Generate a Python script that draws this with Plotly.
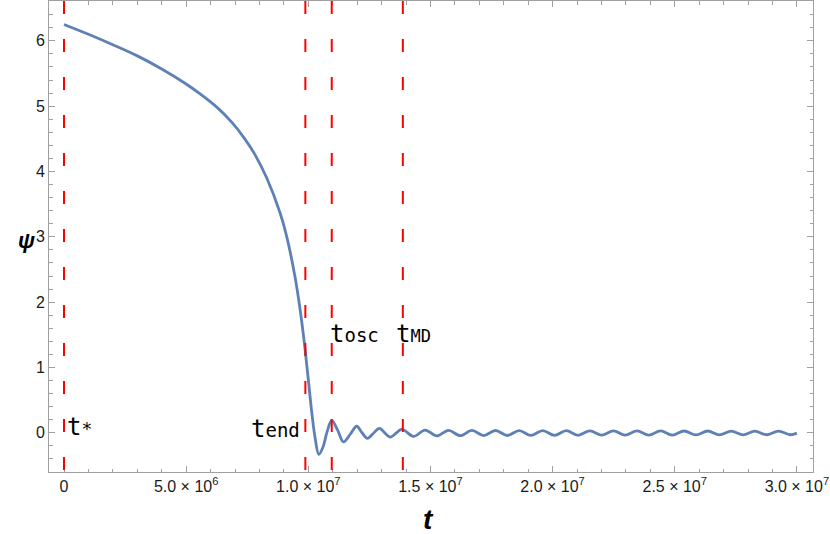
import plotly.graph_objects as go

# time in units of 1e6
t_vals = [0.0, 1.0, 2.0, 3.0, 4.0, 5.0, 5.6, 6.3, 6.9, 7.4, 7.8, 8.3, 8.85, 9.12, 9.46, 9.66,
          9.85, 10.0, 10.14, 10.28, 10.43, 10.6, 10.78, 10.96, 11.2, 11.44, 11.72, 11.98, 12.2,
          12.42, 12.66, 12.91, 13.35, 13.83, 14.31, 14.78, 15.26, 15.74, 16.22, 16.70,
          17.18, 17.665, 18.15, 18.63, 19.11, 19.595, 20.08, 20.56, 21.04, 21.525, 22.01,
          22.49, 22.97, 23.455, 23.94, 24.42, 24.90, 25.385, 25.87, 26.35, 26.83, 27.315,
          27.80, 28.28, 28.76, 29.245, 29.73, 30.0]
psi_vals = [6.25, 6.10, 5.94, 5.77, 5.57, 5.34, 5.18, 4.97, 4.74, 4.50, 4.27, 3.90, 3.36, 3.00, 2.38, 1.90,
            1.34, 0.82, 0.32, -0.08, -0.33, -0.22, 0.03, 0.19, 0.04, -0.14, -0.02, 0.10, 0.0,
            -0.085, -0.01, 0.067, -0.065, 0.052, -0.055, 0.042, -0.048, 0.038, -0.044, 0.036,
            -0.042, 0.035, -0.041, 0.034, -0.040, 0.033, -0.039, 0.032, -0.038, 0.031, -0.037,
            0.030, -0.036, 0.030, -0.035, 0.029, -0.034, 0.028, -0.033, 0.028, -0.032, 0.027,
            -0.031, 0.026, -0.030, 0.026, -0.030, -0.005]

# marker times (units of 1e6)
mark_names = ["t_*", "t_end", "t_osc", "t_MD"]
mark_times = [0.0, 9.88, 10.96, 13.87]

x_tick_vals = [0, 5e6, 1e7, 1.5e7, 2e7, 2.5e7, 3e7]
x_tick_text = ["0", "5.0 × 10<sup>6</sup>", "1.0 × 10<sup>7</sup>", "1.5 × 10<sup>7</sup>",
               "2.0 × 10<sup>7</sup>", "2.5 × 10<sup>7</sup>", "3.0 × 10<sup>7</sup>"]
y_tick_vals = [0, 1, 2, 3, 4, 5, 6]

SCALE = 1e6
fig = go.Figure()
fig.add_trace(go.Scatter(
    x=[v * SCALE for v in t_vals], y=psi_vals, mode="lines",
    line=dict(color="#5E81B5", width=2.8, shape="spline", smoothing=1.0),
    showlegend=False, hoverinfo="skip"))

for tm in mark_times:
    fig.add_shape(type="line", xref="x", yref="paper", x0=tm * SCALE, x1=tm * SCALE,
                  y0=1, y1=0, line=dict(color="#FF0000", width=2, dash="13px,25px"))

mono = "DejaVu Sans Mono"
lab_font = dict(family=mono, size=24, color="black")
fig.add_annotation(x=0.06 * SCALE, y=0.087, xref="x", yref="y", xanchor="left", yanchor="middle",
                   text="t<span style='font-size:18px'>*</span>", showarrow=False, font=lab_font)
fig.add_annotation(x=9.75 * SCALE, y=0.057, xref="x", yref="y", xanchor="right", yanchor="middle",
                   text="t<span style='font-size:19px'>end</span>", showarrow=False, font=lab_font)
fig.add_annotation(x=10.82 * SCALE, y=1.52, xref="x", yref="y", xanchor="left", yanchor="middle",
                   text="t<span style='font-size:19px'>osc</span>", showarrow=False, font=lab_font)
fig.add_annotation(x=13.50 * SCALE, y=1.52, xref="x", yref="y", xanchor="left", yanchor="middle",
                   text="t<span style='font-size:17px'>MD</span>", showarrow=False, font=lab_font)

# axis titles
fig.add_annotation(x=-0.029, y=0.492, xref="paper", yref="paper", xanchor="center", yanchor="middle",
                   text="ψ", showarrow=False,
                   font=dict(family="Liberation Sans", size=22, color="black", weight="bold", style="italic"))
fig.add_annotation(x=0.4963, y=-0.100, xref="paper", yref="paper", xanchor="center", yanchor="middle",
                   text="t", showarrow=False,
                   font=dict(family="Liberation Sans", size=28, color="black", weight="bold", style="italic"))

frame = "#A0A0A0"
tickfont = dict(family="Liberation Sans", size=16, color="#1a1a1a")
fig.update_xaxes(range=[-0.614e6, 30.66e6], tickvals=x_tick_vals, ticktext=x_tick_text,
                 showline=True, linecolor=frame, linewidth=1, mirror="allticks",
                 ticks="inside", ticklen=6, tickcolor=frame, tickwidth=1,
                 minor=dict(ticks="inside", ticklen=3.5, tickcolor=frame, dtick=1e6, tick0=0, showgrid=False),
                 showgrid=False, zeroline=False, tickfont=tickfont, automargin=False,
                 ticklabeloverflow="allow")
fig.update_yaxes(range=[-0.6, 6.61], tickvals=y_tick_vals,
                 showline=True, linecolor=frame, linewidth=1, mirror="allticks",
                 ticks="inside", ticklen=6, tickcolor=frame, tickwidth=1,
                 minor=dict(ticks="inside", ticklen=3.5, tickcolor=frame, dtick=0.2, tick0=0, showgrid=False),
                 showgrid=False, zeroline=False, tickfont=tickfont, automargin=False,
                 ticklabeloverflow="allow")
fig.update_layout(width=830, height=534, margin=dict(l=49, r=17, t=1, b=62, autoexpand=False),
                  paper_bgcolor="white", plot_bgcolor="white")
fig.write_html("out.html", config={"displayModeBar": False},
               post_script="document.body.style.margin='0';document.body.style.overflow='hidden';")
